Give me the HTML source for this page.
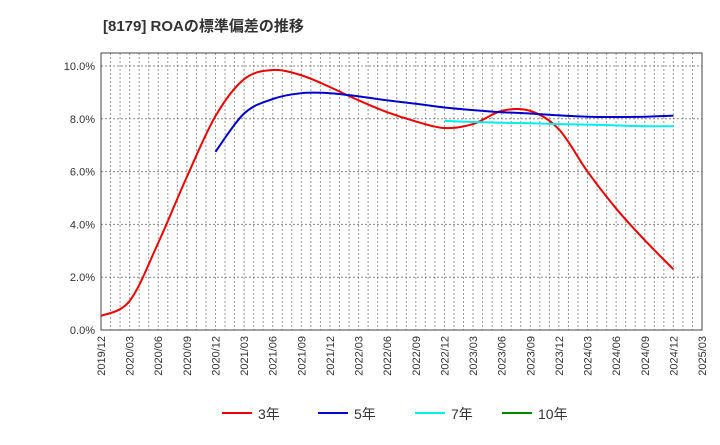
<!DOCTYPE html>
<html><head><meta charset="utf-8"><style>
body{margin:0;background:#fff;font-family:"Liberation Sans","Noto Sans CJK JP",sans-serif;}
svg text{font-family:"Liberation Sans","Noto Sans CJK JP",sans-serif;}
</style></head><body>
<svg id="c" width="720" height="440" xmlns="http://www.w3.org/2000/svg">
<text x="103" y="31" font-size="15" font-weight="bold" fill="#333">[8179]  ROAの標準偏差の推移</text>
<g id="grid"></g><g id="axes"></g><g id="series"></g><g id="legend"></g>
</svg>
<script>
const xLabels=["2019/12","2020/03","2020/06","2020/09","2020/12","2021/03","2021/06","2021/09","2021/12","2022/03","2022/06","2022/09","2022/12","2023/03","2023/06","2023/09","2023/12","2024/03","2024/06","2024/09","2024/12","2025/03"];
const yTicks=[0,2,4,6,8,10];
const s3=[0.53,1.1,3.3,5.8,8.1,9.5,9.85,9.65,9.2,8.7,8.25,7.9,7.65,7.8,8.3,8.3,7.6,6.0,4.6,3.4,2.3];
const s5=[6.75,8.2,8.75,8.97,8.97,8.85,8.7,8.57,8.43,8.33,8.25,8.2,8.13,8.08,8.07,8.08,8.12];
const s7=[7.92,7.88,7.85,7.83,7.8,7.78,7.75,7.72,7.72];
const s5start=4, s7start=12;
const NS="http://www.w3.org/2000/svg";
const L=101,R=702,T=53,B=330;
const xs=i=>L+(R-L)*i/(xLabels.length-1);
const ys=v=>B-(v/10)*(B-66);
function mk(tag,a,p){const e=document.createElementNS(NS,tag);for(const k in a)e.setAttribute(k,a[k]);p.appendChild(e);return e;}
const grid=document.getElementById('grid'),axes=document.getElementById('axes'),ser=document.getElementById('series'),leg=document.getElementById('legend');
for(let m=1;m<(xLabels.length-1)*3;m++){const x=L+(R-L)*m/((xLabels.length-1)*3);
const g=mk('line',{x1:x,x2:x,y1:T,y2:B,stroke:'#999','stroke-dasharray':'2,2','stroke-width':1},grid);
}
yTicks.forEach(v=>{const y=ys(v);
if(v>0){const g=mk('line',{x1:L,x2:R,y1:y,y2:y,stroke:'#888','stroke-dasharray':'2,2'},grid);
}
const t=mk('text',{x:L-6,y:y+4,'text-anchor':'end','font-size':11,fill:'#333'},axes);t.textContent=v.toFixed(1)+'%';
});
xLabels.forEach((lab,i)=>{const x=xs(i);const t=mk('text',{transform:`translate(${x+4},${B+6}) rotate(-90)`,'text-anchor':'end','font-size':11,fill:'#333'},axes);t.textContent=lab;
});
const fr=mk('rect',{x:L,y:T,width:R-L,height:B-T,fill:'none',stroke:'#444','stroke-width':1},axes);

function path(vals,start){const p=vals.map((v,i)=>[xs(start+i),ys(v)]);let d=`M${p[0][0]},${p[0][1]}`;
for(let i=0;i<p.length-1;i++){const p0=p[i-1]||p[i],p1=p[i],p2=p[i+1],p3=p[i+2]||p2;
d+=` C${p1[0]+(p2[0]-p0[0])/6},${p1[1]+(p2[1]-p0[1])/6} ${p2[0]-(p3[0]-p1[0])/6},${p2[1]-(p3[1]-p1[1])/6} ${p2[0]},${p2[1]}`;}return d;}
[[s3,0,'#e00','series-3y'],[s5,s5start,'#00c','series-5y'],[s7,s7start,'#0ee','series-7y']].forEach(([v,s,c,n])=>{
const e=mk('path',{d:path(v,s),fill:'none',stroke:c,'stroke-width':2},ser);
});
[['3年','#e00',222],['5年','#00c',318],['7年','#0ee',415],['10年','#080',502]].forEach(([t,c,x])=>{
const g=mk('g',{},leg);
mk('line',{x1:x,x2:x+30,y1:413,y2:413,stroke:c,'stroke-width':2},g);
const tx=mk('text',{x:x+36,y:419,'font-size':14,fill:'#333'},g);tx.textContent=t;});
</script>
</body></html>
